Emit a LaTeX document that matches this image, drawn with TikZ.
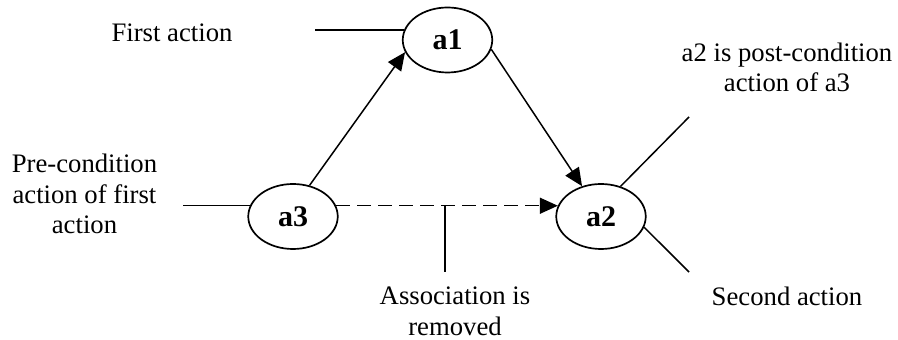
\documentclass[tikz,border=0pt]{standalone}
\usepackage{fontspec}
\setmainfont{Liberation Serif}
\usetikzlibrary{shapes.geometric,arrows.meta}

\begin{document}
\begin{tikzpicture}[x=1pt,y=1pt,
  action/.style={draw,ellipse,line width=1.7pt,minimum width=89.5pt,minimum height=65pt,
    inner sep=0pt,font=\fontsize{30}{34}\selectfont\bfseries},
  link/.style={line width=1.5pt},
  flow/.style={link,-{Triangle[length=18pt,width=16pt]}},
  note/.style={align=center,inner sep=0pt,anchor=base,font=\fontsize{26.7}{30.5}\selectfont}]
\useasboundingbox (0,0) rectangle (898,340);

% action nodes
\node[action] (a1) at (447.5,300) {a1};
\node[action] (a3) at (293,123.5) {a3};
\node[action] (a2) at (601,123.5) {a2};

% free ends of the callout lines
\coordinate (cFirst) at (315,310);
\coordinate (cPre) at (183,134);
\coordinate (cAssoc) at (445,68);
\coordinate (cPost) at (689,223);
\coordinate (cSecond) at (689,68);

% associations between actions
\draw[flow] (a3.62) -- (a1.196);
\draw[flow] (a1.348) -- (a2.122);
\draw[flow,dash pattern=on 14pt off 7pt] (a3.14) -- (a2.166);

% callout lines
\draw[link] (a1.167) -- (a1.167 -| cFirst);
\draw[link] (a3.166) -- (a3.166 -| cPre);
\draw[link] (cAssoc) -- (cAssoc |- a3.14);
\draw[link] (a2.57) -- (cPost);
\draw[link] (a2.346) -- (cSecond);

% callout texts (base anchor sits on the last line)
\node[note] (tFirst) at (172,298) {First action};
\node[note] (tPre) at (84.5,106) {Pre-condition\\action of first\\action};
\node[note] (tPost) at (787,248) {a2 is post-condition\\action of a3};
\node[note] (tSecond) at (787,34) {Second action};
\node[note] (tAssoc) at (455,4.5) {Association is\\removed};
\end{tikzpicture}
\end{document}
